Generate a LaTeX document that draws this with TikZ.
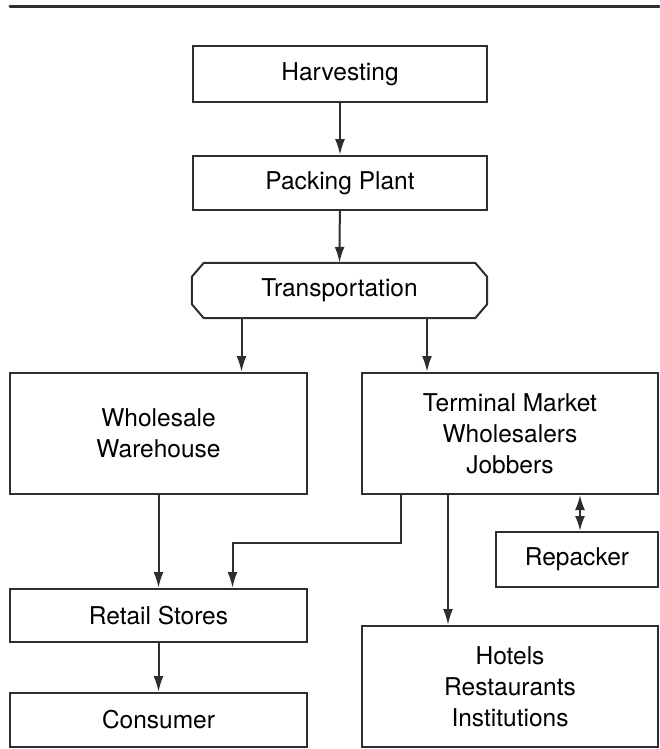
\documentclass[tikz,border=0pt]{standalone}
\usepackage{fontspec}
\setmainfont{TeX Gyre Heros}
\usepackage{tikz}
\usetikzlibrary{arrows.meta}
\definecolor{ink}{RGB}{48, 44, 52}
\def\colw{297}
\def\rightw{296}
\def\tallh{121}
\def\chamx{12}
\def\chamy{14}
\tikzset{
    box/.style={draw=ink, line width=2pt, inner sep=0pt, align=center,
        font=\fontsize{24.5}{31}\selectfont},
    flow/.style={draw=ink, line width=2pt, -{Latex[length=16pt, width=10pt]}}
}

\begin{document}
\begin{tikzpicture}[x=1pt, y=-1pt, line cap=round]

                 \useasboundingbox (0, 0) rectangle (659, 749);

                 \draw[ink, line width=3pt] (10, 7) -- (659, 7);

                 \node[box, minimum width=294pt, minimum height=56pt] (harvest) at (340, 74) {Harvesting};
                 \node[box, minimum width=294pt, minimum height=54pt] (packing) at (340, 183) {Packing Plant};
                 \node[inner sep=0pt, minimum width=295pt, minimum height=55pt,
                       font=\fontsize{24.5}{31}\selectfont] (transport) at (339.5, 290.5) {Transportation};

                 \draw[ink, line width=2pt, line join=round]
                 ([xshift=\chamx pt]transport.north west) --
                 ([xshift=-\chamx pt]transport.north east) --
                 ([yshift=-\chamy pt]transport.north east) --
                 ([yshift=\chamy pt]transport.south east) --
                 ([xshift=-\chamx pt]transport.south east) --
                 ([xshift=\chamx pt]transport.south west) --
                 ([yshift=\chamy pt]transport.south west) --
                 ([yshift=-\chamy pt]transport.north west) -- cycle;

                 \node[box, minimum width=\colw pt, minimum height=\tallh pt] (wholesale) at (158.5, 433.5) {Wholesale\\Warehouse};
                 \node[box, minimum width=\rightw pt, minimum height=\tallh pt] (terminal) at (510, 433.5) {Terminal Market\\Wholesalers\\Jobbers};
                 \node[box, minimum width=162pt, minimum height=55pt] (repacker) at (577, 559.5) {Repacker};
                 \node[box, minimum width=\colw pt, minimum height=53pt] (retail) at (158.5, 615.5) {Retail Stores};
                 \node[box, minimum width=\colw pt, minimum height=54pt] (consumer) at (158.5, 720) {Consumer};
                 \node[box, minimum width=\rightw pt, minimum height=\tallh pt] (hotels) at (510, 686.5) {Hotels\\Restaurants\\Institutions};

                 \draw[flow] (harvest) -- (packing);
                 \draw[flow] (packing) -- (transport.north);
                 \draw[flow] ([xshift=-98pt]transport.south) -- ([xshift=-98pt]transport.south |- wholesale.north);
                 \draw[flow] ([xshift=87.5pt]transport.south) -- ([xshift=87.5pt]transport.south |- terminal.north);
                 \draw[flow] (wholesale) -- (retail);
                 \draw[flow] ([xshift=-109pt]terminal.south) -- ++(0, 48) -| ([xshift=74pt]retail.north);
                 \draw[flow] ([xshift=-62pt]terminal.south) -- ([xshift=-62pt]terminal.south |- hotels.north);
                 \draw[flow, {Latex[length=15pt, width=10pt]}-{Latex[length=15pt, width=10pt]}]
                 ([xshift=3pt]repacker.north) -- ([xshift=3pt]repacker.north |- terminal.south);
                 \draw[flow] (retail) -- (consumer);

             \end{tikzpicture}
\end{document}
